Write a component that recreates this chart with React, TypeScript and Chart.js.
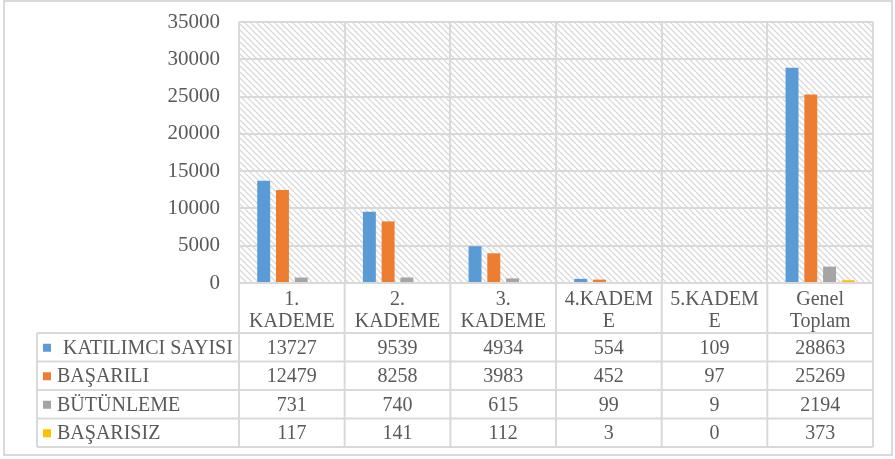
import { useEffect, useRef } from 'react';
import { Chart, registerables } from 'chart.js';

Chart.register(...registerables);

const categories = [
  ['1.', 'KADEME'],
  ['2.', 'KADEME'],
  ['3.', 'KADEME'],
  ['4.KADEM', 'E'],
  ['5.KADEM', 'E'],
  ['Genel', 'Toplam'],
];
const seriesNames = ['KATILIMCI SAYISI', 'BAŞARILI', 'BÜTÜNLEME', 'BAŞARISIZ'];
const katilimci = [13727, 9539, 4934, 554, 109, 28863];
const basarili = [12479, 8258, 3983, 452, 97, 25269];
const butunleme = [731, 740, 615, 99, 9, 2194];
const basarisiz = [117, 141, 112, 3, 0, 373];
const seriesColors = ['#5B9BD5', '#ED7D31', '#A5A5A5', '#FFC000'];
const yMin = 0;
const yMax = 35000;
const yStep = 5000;

const FONT = "'Liberation Serif', 'Times New Roman', serif";
const TEXT = '#595959';
const LINE = '#d9d9d9';

function makePattern(ctx: CanvasRenderingContext2D) {
  const c = document.createElement('canvas');
  c.width = 6;
  c.height = 6;
  const p = c.getContext('2d')!;
  p.fillStyle = '#ffffff';
  p.fillRect(0, 0, 6, 6);
  p.strokeStyle = '#d9d9d9';
  p.lineWidth = 1.3;
  for (const x0 of [-6, 0, 6]) {
    p.beginPath();
    p.moveTo(x0, 0);
    p.lineTo(x0 + 6, 6);
    p.stroke();
  }
  return ctx.createPattern(c, 'repeat');
}

export default function App() {
  const ref = useRef<HTMLCanvasElement>(null);

  useEffect(() => {
    const canvas = ref.current!;
    const seriesData = [katilimci, basarili, butunleme, basarisiz];

    const bgPlugin = {
      id: 'bgPattern',
      beforeDraw(chart: any) {
        const { ctx, chartArea } = chart;
        ctx.save();
        ctx.fillStyle = '#ffffff';
        ctx.fillRect(0, 0, chart.width, chart.height);
        const pat = makePattern(ctx);
        if (pat) {
          ctx.fillStyle = pat;
          ctx.fillRect(chartArea.left, chartArea.top, chartArea.right - chartArea.left, chartArea.bottom - chartArea.top);
        }
        ctx.restore();
      },
    };

    const tablePlugin = {
      id: 'dataTable',
      afterDraw(chart: any) {
        const { ctx, chartArea } = chart;
        const xs = chart.scales.x;
        const n = categories.length;
        const colW = (chartArea.right - chartArea.left) / n;
        const headTop = chartArea.bottom;
        const rowTop = 333;
        const rowH = 28.5;
        const tableBottom = rowTop + rowH * seriesNames.length;
        const tableLeft = 37;

        ctx.save();
        ctx.strokeStyle = LINE;
        ctx.lineWidth = 2;
        for (let i = 0; i <= n; i++) {
          const x = chartArea.left + i * colW;
          ctx.beginPath();
          ctx.moveTo(x, headTop);
          ctx.lineTo(x, tableBottom);
          ctx.stroke();
        }
        ctx.beginPath();
        ctx.moveTo(tableLeft, rowTop);
        ctx.lineTo(tableLeft, tableBottom);
        ctx.stroke();
        ctx.beginPath();
        ctx.moveTo(chartArea.left, headTop);
        ctx.lineTo(chartArea.right, headTop);
        ctx.stroke();
        for (let r = 0; r <= seriesNames.length; r++) {
          const y = rowTop + r * rowH;
          ctx.beginPath();
          ctx.moveTo(tableLeft, y);
          ctx.lineTo(chartArea.right, y);
          ctx.stroke();
        }

        ctx.fillStyle = TEXT;
        ctx.font = `20px ${FONT}`;
        ctx.textAlign = 'center';
        ctx.textBaseline = 'middle';
        for (let i = 0; i < n; i++) {
          const cx = xs.getPixelForTick(i);
          categories[i].forEach((line, j) => {
            ctx.fillText(line, cx, 300 + j * 22);
          });
        }
        for (let r = 0; r < seriesNames.length; r++) {
          const cy = rowTop + rowH * (r + 0.5) + 1;
          for (let i = 0; i < n; i++) {
            ctx.fillText(String(seriesData[r][i]), xs.getPixelForTick(i), cy);
          }
          ctx.fillStyle = seriesColors[r];
          ctx.fillRect(43, cy - 4.5, 8, 8);
          ctx.fillStyle = TEXT;
          ctx.textAlign = 'left';
          ctx.fillText(seriesNames[r], r === 0 ? 63 : 57, cy);
          ctx.textAlign = 'center';
        }

        ctx.strokeStyle = '#d9d9d9';
        ctx.lineWidth = 2;
        ctx.strokeRect(4, 1, 888, 454);
        ctx.restore();
      },
    };

    const chart = new Chart(canvas, {
      type: 'bar',
      data: {
        labels: categories,
        datasets: seriesNames.map((name, i) => ({
          label: name,
          data: seriesData[i],
          backgroundColor: seriesColors[i],
          borderWidth: 0,
          barPercentage: 0.69,
          categoryPercentage: 0.71,
        })),
      },
      options: {
        responsive: false,
        animation: false,
        layout: { padding: { left: 0, top: 22, right: 22, bottom: 0 } },
        plugins: {
          legend: { display: false },
          tooltip: { enabled: false },
        },
        scales: {
          x: {
            grid: { offset: true, color: LINE, lineWidth: 2, drawTicks: false },
            border: { display: false },
            ticks: { display: false },
            afterFit: (s: any) => {
              s.height = 176;
              s.paddingLeft = 0;
              s.paddingRight = 0;
              s.paddingTop = 0;
              s.paddingBottom = 0;
            },
          },
          y: {
            min: yMin,
            max: yMax,
            grid: { color: LINE, lineWidth: 2, drawTicks: false },
            border: { display: false },
            ticks: {
              stepSize: yStep,
              padding: 19,
              color: TEXT,
              font: { family: FONT, size: 21 },
              callback: (v: any) => String(v),
            },
            afterFit: (s: any) => {
              s.width = 239;
              s.paddingTop = 0;
              s.paddingBottom = 0;
              s.paddingLeft = 0;
              s.paddingRight = 0;
            },
          },
        },
      },
      plugins: [bgPlugin, tablePlugin],
    });

    return () => chart.destroy();
  }, []);

  return (
    <div style={{ position: 'fixed', left: 0, top: 0, width: 895, height: 459, background: '#fff' }}>
      <canvas ref={ref} width={895} height={459} style={{ display: 'block' }} />
    </div>
  );
}
